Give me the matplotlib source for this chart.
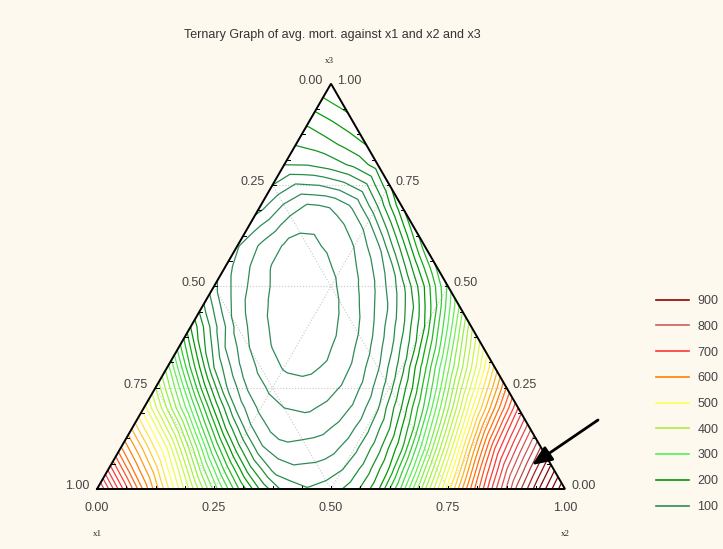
import numpy as np
import matplotlib.pyplot as plt
import matplotlib.tri as mtri
from matplotlib.colors import LinearSegmentedColormap, Normalize
from matplotlib.lines import Line2D

plt.rcParams['font.family'] = ['Liberation Sans', 'DejaVu Sans']

# avg. mort. on a 0.1 simplex lattice.
# each row has fixed x3, values run from x2 = 0 upwards (x1 = 1 - x2 - x3)
mort_x3_00 = [810, 615, 432, 245, 132, 130, 195, 395, 625, 830, 980]
mort_x3_01 = [625, 480, 262, 104, 87, 114, 215, 440, 680, 845]
mort_x3_02 = [490, 300, 112, 60, 66, 118, 265, 495, 700]
mort_x3_03 = [350, 140, 54, 36, 64, 150, 335, 545]
mort_x3_04 = [200, 72, 32, 35, 86, 200, 415]
mort_x3_05 = [105, 46, 27, 55, 130, 285]
mort_x3_06 = [82, 38, 44, 96, 250]
mort_x3_07 = [108, 58, 85, 215]
mort_x3_08 = [140, 150, 190]
mort_x3_09 = [182, 212]
mort_x3_10 = [240]
rows = [mort_x3_00, mort_x3_01, mort_x3_02, mort_x3_03, mort_x3_04, mort_x3_05,
        mort_x3_06, mort_x3_07, mort_x3_08, mort_x3_09, mort_x3_10]

legend_levels = [900, 800, 700, 600, 500, 400, 300, 200, 100]
legend_colors = ['#8B0000', '#CD5C5C', '#FF3333', '#FF8000', '#FFFF55',
                 '#A8F040', '#55EE55', '#009900', '#2E8B57']
contour_levels = np.arange(0, 1000, 20)

tick_vals = [0.0, 0.25, 0.5, 0.75, 1.0]
tick_labels = ['0.00', '0.25', '0.50', '0.75', '1.00']

title = 'Ternary Graph of avg. mort. against x1 and x2 and x3'
bg = '#FEF9EE'
txt = '#444444'

S3 = np.sqrt(3) / 2


def tern(x2, x3):
    return x2 + x3 / 2, x3 * S3


# lattice points
g2, g3, z = [], [], []
for j, row in enumerate(rows):
    for i, v in enumerate(row):
        g2.append(i / 10)
        g3.append(j / 10)
        z.append(v)
g2, g3, z = np.array(g2), np.array(g3), np.array(z, dtype=float)
gx, gy = tern(g2, g3)
tri = mtri.Triangulation(gx, gy)
interp = mtri.CubicTriInterpolator(tri, z, kind='geom')
refiner = mtri.UniformTriRefiner(tri)
tri_f, z_f = refiner.refine_field(z, interp, subdiv=1)

# colours
cmap = LinearSegmentedColormap.from_list(
    'mort', list(zip([(v - 100) / 800 for v in legend_levels[::-1]], legend_colors[::-1])))
norm = Normalize(100, 900, clip=True)

fig = plt.figure(figsize=(7.23, 5.49), dpi=100, facecolor=bg)
W = 468.0
ax = fig.add_axes([0, 0, 1, 1])
ax.set_xlim(-97 / W, (723 - 97) / W)
ax.set_ylim(-(549 - 489) / W, 489 / W)
ax.axis('off')

# triangle background
ax.fill([0, 1, 0.5], [0, 0, S3], color='white', zorder=0)

# grid lines
for v in [0.25, 0.5, 0.75]:
    ax.plot(*zip(tern(0, v), tern(1 - v, v)), ls=':', color='#c8c8c8', lw=0.8, zorder=1)
    ax.plot(*zip(tern(v, 0), tern(v, 1 - v)), ls=':', color='#c8c8c8', lw=0.8, zorder=1)
    ax.plot(*zip(tern(1 - v, 0), tern(0, 1 - v)), ls=':', color='#c8c8c8', lw=0.8, zorder=1)

ax.tricontour(tri_f, z_f, levels=contour_levels,
              colors=[cmap(norm(l)) for l in contour_levels], linewidths=0.9, zorder=2)

# frame
ax.plot([0, 1, 0.5, 0], [0, 0, S3, 0], color='black', lw=1.4, zorder=4, solid_joinstyle='miter')

# minor ticks (every 1/16)
tl = 3 / W
for k in range(1, 16):
    t = k / 16
    x, y = tern(t, 0)
    ax.plot([x, x], [y, y + tl], color='black', lw=0.7, zorder=4)
    x, y = tern(0, t)
    ax.plot([x, x + tl], [y, y], color='black', lw=0.7, zorder=4)
    x, y = tern(1 - t, t)
    ax.plot([x, x - tl], [y, y], color='black', lw=0.7, zorder=4)

fs = 9
for v, lab in zip(tick_vals, tick_labels):
    x, y = tern(v, 0)
    ax.text(x, y - 19 / W, lab, ha='center', va='center', fontsize=fs, color=txt)
    x, y = tern(0, 1 - v)
    ax.text(x - 8 / W, y + 3 / W, lab, ha='right', va='center', fontsize=fs, color=txt)
    x, y = tern(1 - v, v)
    ax.text(x + 6 / W, y + 3 / W, lab, ha='left', va='center', fontsize=fs, color=txt)

ax.text(0, -45 / W, 'x1', ha='center', va='center', fontsize=6.5, family='Liberation Serif', color='#222222')
ax.text(1, -45 / W, 'x2', ha='center', va='center', fontsize=6.5, family='Liberation Serif', color='#222222')
ax.text(0.5 - 2 / W, S3 + 23 / W, 'x3', ha='center', va='center', fontsize=6.5, family='Liberation Serif', color='#222222')

fig.text(332 / 723, 1 - 35 / 549, title, ha='center', va='center', fontsize=9, color='#333333')

# arrow
ax.annotate('', xy=((532 - 97) / W, (489 - 465) / W), xytext=((598 - 97) / W, (489 - 420) / W),
            arrowprops=dict(arrowstyle='-|>,head_length=1.2,head_width=0.5', color='black', lw=2,
                            shrinkA=0, shrinkB=0), zorder=5)

handles = [Line2D([], [], color=c, lw=1.2) for c in legend_colors]
fig.legend(handles, [str(l) for l in legend_levels], loc='center left',
           bbox_to_anchor=(645 / 723, 1 - 404 / 549), frameon=False, fontsize=9,
           labelcolor=txt, handlelength=2.6, labelspacing=1.1, handletextpad=0.7)

fig.savefig('out.png', dpi=100, facecolor=bg)
